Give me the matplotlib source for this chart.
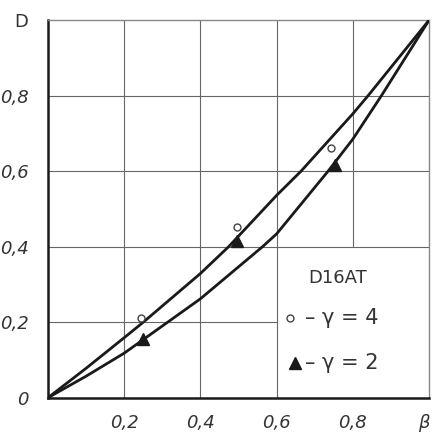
import matplotlib
matplotlib.use("Agg")
import matplotlib.pyplot as plt

# Data
beta_upper = [0.0, 0.1, 0.2, 0.25, 0.4, 0.474, 0.6, 0.664, 0.8, 0.84, 1.0]
D_upper = [0.0, 0.078, 0.159, 0.2, 0.329, 0.4, 0.536, 0.6, 0.752, 0.8, 1.0]
beta_lower = [0.0, 0.1, 0.2, 0.314, 0.4, 0.563, 0.6, 0.735, 0.8, 0.875, 1.0]
D_lower = [0.0, 0.057, 0.118, 0.2, 0.262, 0.4, 0.434, 0.6, 0.685, 0.8, 1.0]

beta_g4 = [0.243, 0.497, 0.743]
D_g4 = [0.21, 0.452, 0.662]
beta_g2 = [0.249, 0.497, 0.753]
D_g2 = [0.155, 0.415, 0.615]

xtick_vals = [0.2, 0.4, 0.6, 0.8, 1.0]
xtick_labels = ["0,2", "0,4", "0,6", "0,8", "β"]
ytick_vals = [0.0, 0.2, 0.4, 0.6, 0.8, 1.0]
ytick_labels = ["0", "0,2", "0,4", "0,6", "0,8", "D"]

FONT = ["Liberation Sans Narrow", "DejaVu Sans"]
TXT = "#333333"

fig = plt.figure(figsize=(4.33, 4.37), dpi=100)
ax = fig.add_axes([0.111, 0.090, 0.880, 0.864])
ax.set_xlim(0, 1)
ax.set_ylim(0, 1)

grid_kw = dict(color="#666666", lw=0.8, zorder=1)
for v in [0.2, 0.4, 0.6]:
    ax.axvline(v, **grid_kw)
ax.axvline(0.8, ymin=0.4, ymax=1.0, **grid_kw)
for h in [0.4, 0.6, 0.8]:
    ax.axhline(h, **grid_kw)
ax.axhline(0.2, xmin=0.0, xmax=0.6, **grid_kw)

ax.plot(beta_upper, D_upper, color="#1a1a1a", lw=2.0, zorder=3, solid_capstyle="round")
ax.plot(beta_lower, D_lower, color="#1a1a1a", lw=2.0, zorder=3, solid_capstyle="round")

ax.plot(beta_g4, D_g4, linestyle="none", marker="o", markersize=5,
        markerfacecolor="white", markeredgecolor="#444444", markeredgewidth=1.0, zorder=4)
ax.plot(beta_g2, D_g2, linestyle="none", marker="^", markersize=9,
        markerfacecolor="#1a1a1a", markeredgecolor="#1a1a1a", zorder=4)

for s in ["left", "bottom"]:
    ax.spines[s].set_linewidth(1.8)
    ax.spines[s].set_color("#1a1a1a")
for s in ["top", "right"]:
    ax.spines[s].set_linewidth(1.0)
    ax.spines[s].set_color("#888888")

ax.set_xticks(xtick_vals)
ax.set_xticklabels(xtick_labels)
ax.set_yticks(ytick_vals)
ax.set_yticklabels(ytick_labels)
ax.tick_params(axis="both", length=0, labelsize=13, labelcolor=TXT)
ax.tick_params(axis="x", pad=12)
ax.tick_params(axis="y", pad=14)
for lab in ax.get_xticklabels() + ax.get_yticklabels():
    lab.set_family(FONT)
    lab.set_style("italic")
xl = ax.get_xticklabels()
xl[-1].set_horizontalalignment("right")
yl = ax.get_yticklabels()
yl[-1].set_style("normal")

# legend block inside the lower right cell area
ax.text(0.761, 0.316, "D16AT", family=FONT, fontsize=13, color=TXT,
        ha="center", va="center")
ax.plot([0.635], [0.21], linestyle="none", marker="o", markersize=5,
        markerfacecolor="white", markeredgecolor="#444444", markeredgewidth=1.0)
ax.text(0.675, 0.21, "– γ = 4", family=FONT, fontsize=15, color=TXT,
        ha="left", va="center")
ax.plot([0.648], [0.091], linestyle="none", marker="^", markersize=8,
        markerfacecolor="#1a1a1a", markeredgecolor="#1a1a1a")
ax.text(0.675, 0.091, "– γ = 2", family=FONT, fontsize=15, color=TXT,
        ha="left", va="center")

fig.savefig("out.png", dpi=100, facecolor="white")
